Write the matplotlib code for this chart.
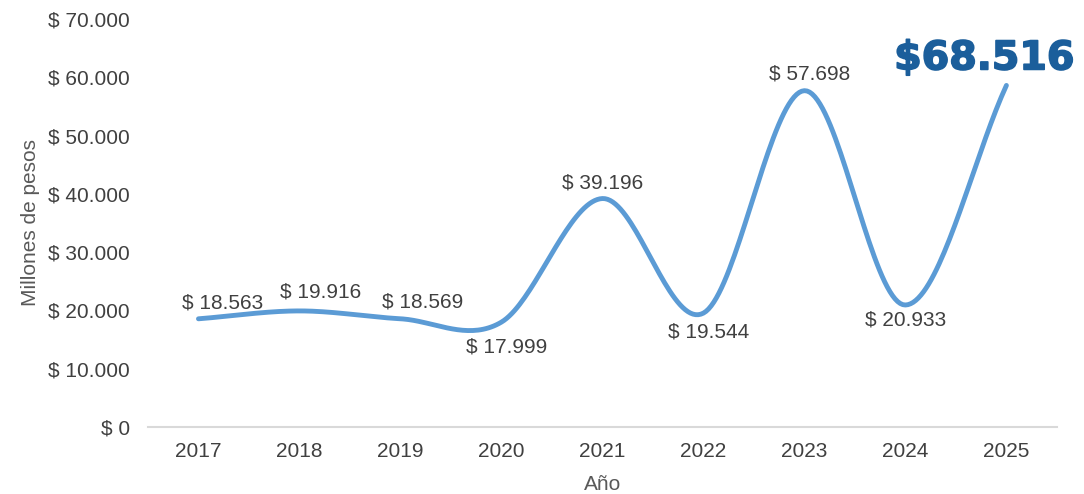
import matplotlib.pyplot as plt
import matplotlib.patheffects as pe
import numpy as np

years = ["2017", "2018", "2019", "2020", "2021", "2022", "2023", "2024", "2025"]
values = [18563, 19916, 18569, 17999, 39196, 19544, 57698, 20933, 58600]
labels = ["$ 18.563", "$ 19.916", "$ 18.569", "$ 17.999", "$ 39.196",
          "$ 19.544", "$ 57.698", "$ 20.933", ""]
highlight = "$68.516"
yticks = [0, 10000, 20000, 30000, 40000, 50000, 60000, 70000]
ytick_labels = ["$ 0", "$ 10.000", "$ 20.000", "$ 30.000", "$ 40.000",
                "$ 50.000", "$ 60.000", "$ 70.000"]

# label offsets in pixels (dx, dy)
offsets = [(24, 16), (21, 19), (22, 17), (5, -25), (0, 16),
           (5, -19), (5, 17), (0, -15), (0, 0)]


def smooth(x, y, n=40):
    # Catmull-Rom spline through the points (like Excel's smoothed line)
    x = np.asarray(x, float)
    y = np.asarray(y, float)
    px = np.concatenate([[2 * x[0] - x[1]], x, [2 * x[-1] - x[-2]]])
    py = np.concatenate([[2 * y[0] - y[1]], y, [2 * y[-1] - y[-2]]])
    xs, ys = [], []
    t = np.linspace(0, 1, n)
    for i in range(1, len(px) - 2):
        for p, out in ((px, xs), (py, ys)):
            p0, p1, p2, p3 = p[i - 1], p[i], p[i + 1], p[i + 2]
            out.extend(0.5 * ((2 * p1) + (-p0 + p2) * t
                              + (2 * p0 - 5 * p1 + 4 * p2 - p3) * t ** 2
                              + (-p0 + 3 * p1 - 3 * p2 + p3) * t ** 3))
    return np.array(xs), np.array(ys)


TXT = "#404040"
FONT = "Liberation Sans"

fig = plt.figure(figsize=(10.84, 4.94), dpi=100)
ax = fig.add_axes([0.1365, 0.1356, 0.8385, 0.826])

x = np.arange(len(years))
sx, sy = smooth(x, values)
ax.plot(sx, sy, color="#5B9BD5", lw=3.5, solid_capstyle="round", zorder=3)

for xi, v, lab, (dx, dy) in zip(x, values, labels, offsets):
    if lab:
        ax.annotate(lab, (xi, v), xytext=(dx, dy), textcoords="offset pixels",
                    ha="center", va="center", fontsize=15, color=TXT,
                    family=FONT, zorder=4)

ax.annotate(highlight, (x[-1], values[-1]), xytext=(-22, 27),
            textcoords="offset pixels", ha="center", va="center",
            fontsize=28.5, fontweight="bold", color="#1B5E9B",
            family="DejaVu Sans", zorder=4,
            path_effects=[pe.withStroke(linewidth=1.2, foreground="#1B5E9B")])

ax.set_xlim(-0.5, len(years) - 0.5)
ax.set_ylim(0, 70000)
ax.set_xticks(x)
ax.set_xticklabels(years, fontsize=15, color=TXT, family=FONT)
ax.set_yticks(yticks)
ax.set_yticklabels(ytick_labels, fontsize=15, color=TXT, family=FONT)
ax.tick_params(length=0)
ax.tick_params(axis="y", pad=13)
ax.tick_params(axis="x", pad=11)
ax.set_xlabel("Año", fontsize=15, color="#595959", family=FONT, labelpad=10)
ax.set_ylabel("Millones de pesos", fontsize=15, color="#595959", family=FONT, labelpad=6)
for s in ("top", "right", "left"):
    ax.spines[s].set_visible(False)
ax.spines["bottom"].set_color("#d9d9d9")
ax.spines["bottom"].set_linewidth(1.5)
ax.patch.set_alpha(0)

fig.savefig("out.png", dpi=100)
